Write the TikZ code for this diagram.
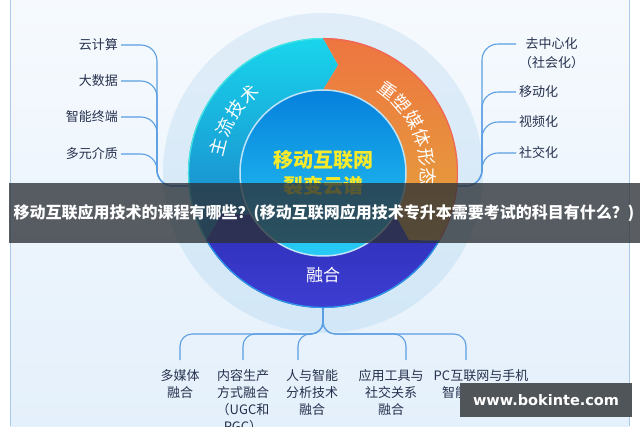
\documentclass[tikz,border=0pt]{standalone}
\usepackage{fontspec}
\setmainfont{Noto Sans CJK SC}
\newfontfamily\stampfont{DejaVu Sans}
\definecolor{ink}{HTML}{26314E}
\definecolor{wire}{HTML}{5B9FE2}
\definecolor{frame}{HTML}{A9C9E6}
\definecolor{paper}{HTML}{F6FAFE}
\definecolor{paperlow}{HTML}{E4F0FB}
\definecolor{halotop}{HTML}{E0EDF8}
\definecolor{halolow}{HTML}{D2E7F7}
\definecolor{cyantop}{HTML}{19D5EC}
\definecolor{cyanlow}{HTML}{1A7FC8}
\definecolor{cyanrim}{HTML}{45E6E2}
\definecolor{orangetop}{HTML}{EE7540}
\definecolor{orangelow}{HTML}{E3A43C}
\definecolor{orangerim}{HTML}{F2665A}
\definecolor{violettop}{HTML}{2F2FB8}
\definecolor{violetlow}{HTML}{4040D8}
\definecolor{violetrim}{HTML}{2A9BEA}
\definecolor{coretop}{HTML}{0680DC}
\definecolor{corelow}{HTML}{28CCF5}
\definecolor{corerim}{HTML}{BFE3F7}
\definecolor{title}{HTML}{F7EA2B}
\definecolor{banner}{HTML}{2C3136}
\definecolor{stamp}{HTML}{50555A}

\begin{document}
\begin{tikzpicture}[
  x=1pt,y=1pt,
  branch/.style={draw=wire,line width=1.1pt,rounded corners=16pt},
  leaf/.style={text=ink,font=\fontsize{13}{17}\selectfont,align=center,inner sep=3pt},
  fuse/.style={leaf,anchor=north,inner ysep=9pt},
  ringtext/.style={text=white,font=\fontsize{18}{18}\selectfont,inner sep=0pt},
  core/.style={text=title,font=\fontsize{20}{20}\selectfont\bfseries,inner sep=0pt}
]
  \useasboundingbox (0,0) rectangle (640,426);
  \shade[top color=paper,bottom color=paperlow] (10,0) rectangle (629.5,426);
  \draw[frame,line width=1pt] (10,0) -- (10,426) (629.5,0) -- (629.5,426);

  \coordinate (hub) at (323,253);
  \shade[top color=halotop,bottom color=halolow] (hub) circle[radius=160];

  \node[leaf,anchor=east] (cloud) at (121,381) {云计算};
  \node[leaf,anchor=east] (bigdata) at (121,345) {大数据};
  \node[leaf,anchor=east] (terminal) at (121,309) {智能终端};
  \node[leaf,anchor=east] (media) at (121,272) {多元介质};

  \node[leaf,anchor=west,font=\fontsize{13}{19}\selectfont] (decentral)
    at (516,372.5) {去中心化\\（社会化）};
  \node[leaf,anchor=west] (mobile) at (516,334) {移动化};
  \node[leaf,anchor=west] (video) at (516,304) {视频化};
  \node[leaf,anchor=west] (social) at (516,273) {社交化};

  \node[fuse] (fuse1) at (180,66) {多媒体\\融合};
  \node[fuse] (fuse2) at (243,66) {内容生产\\方式融合\\（UGC和\\PGC）};
  \node[fuse] (fuse3) at (312,66) {人与智能\\分析技术\\融合};
  \node[fuse] (fuse4) at (391,66) {应用工具与\\社交关系\\融合};
  \node[fuse] (fuse5) at (481,66) {PC互联网与手机\\智能终端融合};

  \coordinate (lbend) at (157,240);
  \coordinate (ringW) at (192,240);
  \coordinate (rbend) at (482,240);
  \coordinate (ringE) at (454,240);
  \coordinate (ringS) at (323,121);
  \coordinate (fork) at (323,92);
  \foreach \n in {cloud,bigdata,terminal,media}
    \draw[branch] (\n.east) -| (lbend) -- (ringW);
  \draw[branch] ([yshift=9.5pt]decentral.west) -| (rbend) -- (ringE);
  \foreach \n in {mobile,video,social}
    \draw[branch] (\n.west) -| (rbend) -- (ringE);
  \foreach \n/\dx in {fuse1/0,fuse2/0,fuse3/-14,fuse4/15,fuse5/-15}
    \draw[branch,rounded corners=12pt] (ringS) -- (fork)
      -| ([xshift=\dx pt]\n.north);

  \begin{scope}[shift={(hub)}]
    \foreach \t/\l/\ctop/\clow/\rim in {210/90/cyantop/cyanlow/cyanrim,
        90/-30/orangetop/orangelow/orangerim,-30/-150/violettop/violetlow/violetrim}{
      \shade[top color=\ctop,bottom color=\clow]
        (\t:135) arc[start angle=\t,end angle=\l,radius=135]
        -- ({\l-8}:109) -- (\l:83)
        arc[start angle=\l,end angle=\t,radius=83]
        -- ({\t-8}:109) -- cycle;
      \draw[\rim,line width=1.2pt]
        (\t:134.4) arc[start angle=\t,end angle=\l,radius=134.4];
    }
    \shade[top color=coretop,bottom color=corelow,draw=corerim,line width=1.5pt]
      (0,0) circle[radius=83];
    \foreach \c [count=\i] in {主,流,技,术}
      \node[ringtext,rotate={87-11*\i}] (tech\i) at ({177-11*\i}:108) {\c};
    \foreach \c [count=\i] in {重,塑,媒,体,形,态}
      \node[ringtext,rotate={-27.2-10.8*\i}] (shape\i) at ({62.8-10.8*\i}:105) {\c};
    \node[ringtext,font=\fontsize{17}{17}\selectfont] (fusion) at (0,-102) {融合};
    \node[core] (hubtitle) at (0,13) {移动互联网};
    \node[core] (hubsub) at (0,-13) {裂变云谱};
  \end{scope}

  \fill[banner,opacity=.78] (9,183) rectangle (640,243);
  \node[text=white,font=\fontsize{16}{16}\selectfont\bfseries,inner sep=0pt] (headline)
    at (324,213) {移动互联应用技术的课程有哪些？(移动互联网应用技术专升本需要考试的科目有什么？)};
  \node[fill=stamp,text=white,font=\stampfont\fontsize{14.5}{14.5}\selectfont\bfseries,
    minimum width=172pt,minimum height=34pt,inner sep=0pt] (stamp) at (546,26) {www.bokinte.com};
\end{tikzpicture}
\end{document}
